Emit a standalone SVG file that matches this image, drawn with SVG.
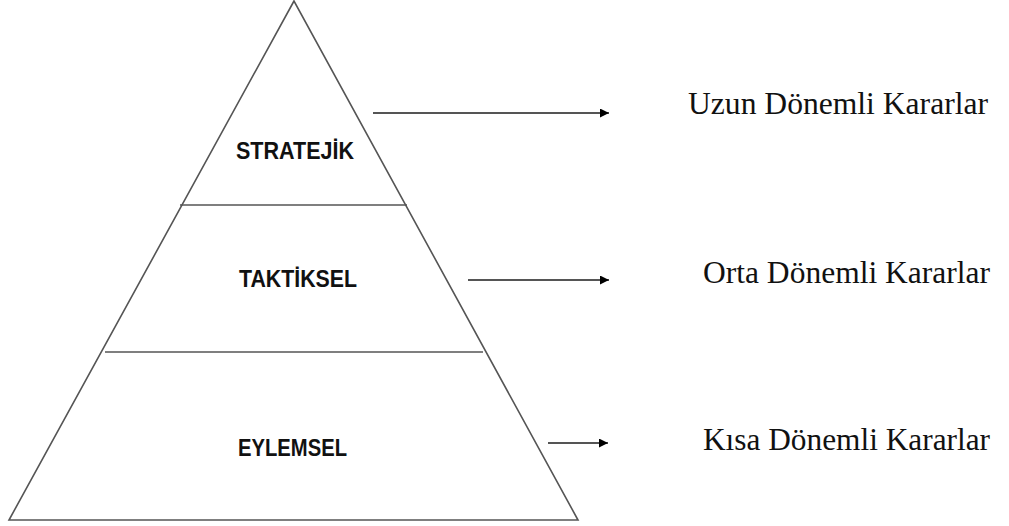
<svg xmlns="http://www.w3.org/2000/svg" width="1009" height="526" viewBox="0 0 1009 526">
  <style>
    .edge { fill: none; stroke: #555; stroke-width: 1.6; }
    .tier { font-family: "Liberation Sans", Arial, sans-serif; font-weight: bold; font-size: 23px; fill: #111; }
    .note { font-family: "Liberation Serif", "Times New Roman", serif; font-size: 31px; fill: #111; }
    .link { stroke: #555; stroke-width: 2; fill: none; }
  </style>
  <defs>
    <marker id="head" viewBox="0 0 10 10" refX="10" refY="5" markerWidth="10" markerHeight="9" markerUnits="userSpaceOnUse" orient="auto">
      <path d="M0,0 L10,5 L0,10 Z" fill="#000"/>
    </marker>
  </defs>
  <rect width="1009" height="526" fill="#fff"/>

  <!-- pyramid outline -->
  <g id="pyramid">
    <polygon class="edge" points="294,1 9,520 578,520"/>
  </g>

  <!-- top tier -->
  <g id="stratejik">
    <line class="edge" x1="180" y1="205" x2="407" y2="205"/>
    <text class="tier" x="236" y="159" textLength="118" lengthAdjust="spacingAndGlyphs">STRATEJİK</text>
  </g>

  <!-- middle tier -->
  <g id="taktiksel">
    <line class="edge" x1="105" y1="352" x2="483" y2="352"/>
    <text class="tier" x="239" y="287" textLength="118" lengthAdjust="spacingAndGlyphs">TAKTİKSEL</text>
  </g>

  <!-- bottom tier -->
  <g id="eylemsel">
    <text class="tier" x="238" y="456" textLength="109" lengthAdjust="spacingAndGlyphs">EYLEMSEL</text>
  </g>

  <!-- decision horizon labels -->
  <g id="uzun">
    <text class="note" x="688" y="114" textLength="300" lengthAdjust="spacingAndGlyphs">Uzun Dönemli Kararlar</text>
  </g>
  <g id="orta">
    <text class="note" x="703" y="283" textLength="287" lengthAdjust="spacingAndGlyphs">Orta Dönemli Kararlar</text>
  </g>
  <g id="kisa">
    <text class="note" x="703" y="450" textLength="287" lengthAdjust="spacingAndGlyphs">Kısa Dönemli Kararlar</text>
  </g>

  <!-- connectors -->
  <g id="connectors">
    <line class="link" x1="373" y1="113" x2="609" y2="113" marker-end="url(#head)"/>
    <line class="link" x1="468" y1="280" x2="609" y2="280" marker-end="url(#head)"/>
    <line class="link" x1="548" y1="443" x2="608" y2="443" marker-end="url(#head)"/>
  </g>
</svg>
